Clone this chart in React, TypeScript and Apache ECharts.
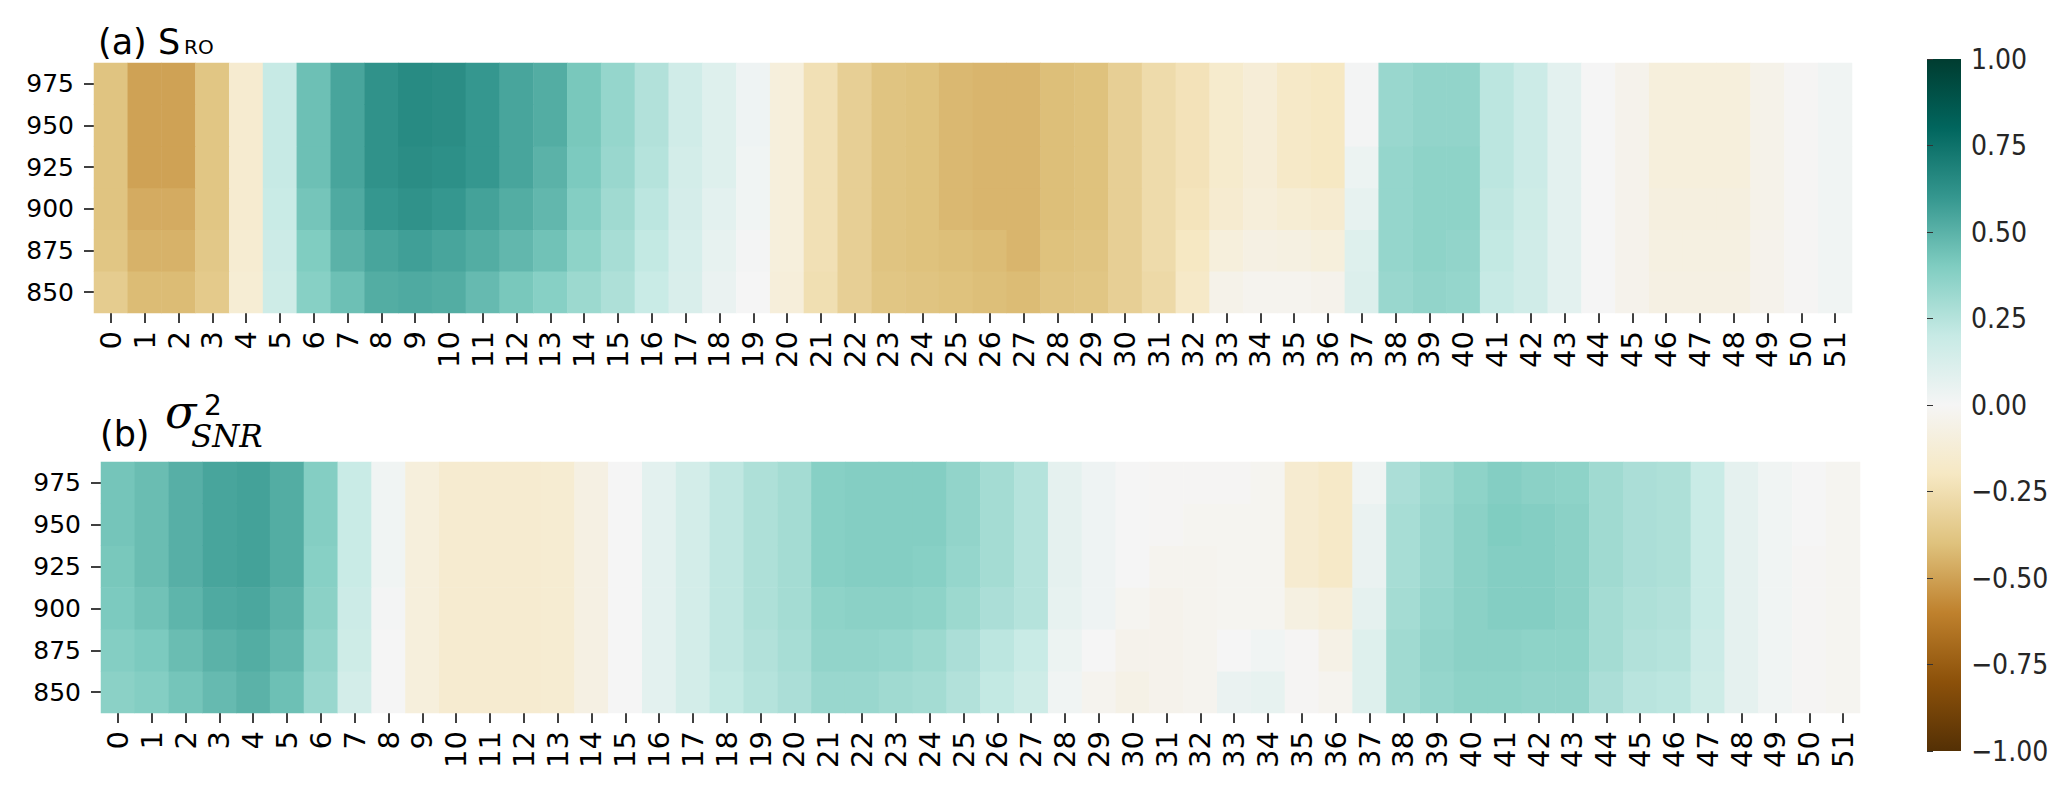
import React, { useEffect, useRef } from "react";
import * as echarts from "echarts";

// x categories (index 0..51)
const columns: string[] = Array.from({ length: 52 }, (_, i) => String(i));
// pressure levels, bottom to top
const levels: string[] = ["850", "875", "900", "925", "950", "975"];
const cbarTicks: number[] = [-1, -0.75, -0.5, -0.25, 0, 0.25, 0.5, 0.75, 1];

// (a) S_RO  — one array per level
const sro975 = [-0.39,-0.5,-0.5,-0.38,-0.15,0.2,0.45,0.55,0.62,0.65,0.64,0.6,0.55,0.52,0.42,0.34,0.26,0.16,0.1,0.03,-0.1,-0.24,-0.33,-0.39,-0.4,-0.43,-0.44,-0.44,-0.41,-0.4,-0.33,-0.27,-0.23,-0.16,-0.12,-0.18,-0.2,0.01,0.33,0.35,0.35,0.23,0.18,0.08,0.0,-0.04,-0.1,-0.1,-0.1,-0.05,-0.01,0.02];
const sro950 = [-0.39,-0.5,-0.5,-0.38,-0.15,0.2,0.45,0.55,0.62,0.65,0.64,0.6,0.55,0.52,0.42,0.34,0.26,0.16,0.1,0.03,-0.1,-0.24,-0.33,-0.39,-0.4,-0.43,-0.44,-0.44,-0.41,-0.4,-0.33,-0.27,-0.23,-0.16,-0.12,-0.18,-0.2,0.01,0.33,0.35,0.35,0.23,0.18,0.08,0.0,-0.04,-0.1,-0.1,-0.1,-0.05,-0.01,0.02];
const sro925 = [-0.39,-0.5,-0.5,-0.38,-0.15,0.2,0.45,0.55,0.62,0.64,0.63,0.6,0.55,0.5,0.41,0.33,0.25,0.15,0.1,0.02,-0.1,-0.24,-0.33,-0.39,-0.4,-0.43,-0.44,-0.44,-0.41,-0.4,-0.33,-0.27,-0.23,-0.16,-0.12,-0.18,-0.2,0.04,0.34,0.36,0.36,0.23,0.18,0.08,0.0,-0.04,-0.1,-0.1,-0.1,-0.05,-0.01,0.02];
const sro900 = [-0.39,-0.47,-0.47,-0.38,-0.15,0.19,0.43,0.53,0.6,0.62,0.6,0.56,0.52,0.48,0.39,0.31,0.23,0.14,0.08,0.02,-0.1,-0.24,-0.33,-0.39,-0.4,-0.43,-0.44,-0.44,-0.41,-0.4,-0.33,-0.27,-0.22,-0.15,-0.11,-0.13,-0.15,0.06,0.34,0.36,0.36,0.22,0.17,0.08,0.0,-0.04,-0.09,-0.09,-0.09,-0.05,-0.01,0.02];
const sro875 = [-0.38,-0.45,-0.45,-0.37,-0.14,0.18,0.4,0.5,0.55,0.57,0.55,0.52,0.48,0.44,0.36,0.29,0.21,0.13,0.06,0.01,-0.1,-0.24,-0.33,-0.39,-0.4,-0.41,-0.42,-0.44,-0.4,-0.39,-0.33,-0.27,-0.2,-0.1,-0.07,-0.08,-0.1,0.1,0.34,0.36,0.35,0.21,0.16,0.08,0.0,-0.04,-0.08,-0.08,-0.08,-0.04,-0.01,0.02];
const sro850 = [-0.35,-0.42,-0.42,-0.36,-0.13,0.17,0.38,0.45,0.52,0.53,0.52,0.47,0.42,0.38,0.32,0.27,0.19,0.12,0.05,0.0,-0.11,-0.25,-0.33,-0.38,-0.39,-0.4,-0.41,-0.42,-0.39,-0.38,-0.33,-0.28,-0.18,-0.05,-0.03,-0.03,-0.04,0.11,0.33,0.35,0.34,0.2,0.16,0.08,0.0,-0.04,-0.07,-0.07,-0.07,-0.04,-0.01,0.02];

// (b) sigma^2_SNR — one array per level
const snr975 = [0.43,0.46,0.51,0.55,0.56,0.52,0.39,0.19,0.02,-0.1,-0.15,-0.15,-0.15,-0.14,-0.07,0.0,0.08,0.15,0.22,0.27,0.3,0.38,0.39,0.39,0.39,0.35,0.3,0.25,0.07,0.03,0.0,-0.01,-0.01,-0.01,-0.02,-0.15,-0.18,0.02,0.28,0.32,0.36,0.39,0.37,0.36,0.31,0.28,0.27,0.19,0.07,0.02,0.0,-0.02];
const snr950 = [0.43,0.46,0.51,0.55,0.56,0.52,0.39,0.19,0.02,-0.1,-0.15,-0.15,-0.15,-0.14,-0.07,0.0,0.08,0.15,0.22,0.27,0.3,0.38,0.39,0.39,0.39,0.35,0.3,0.25,0.07,0.03,0.0,-0.01,-0.02,-0.02,-0.02,-0.15,-0.18,0.05,0.29,0.33,0.37,0.4,0.39,0.37,0.31,0.28,0.27,0.19,0.07,0.02,0.0,-0.02];
const snr925 = [0.42,0.46,0.51,0.55,0.56,0.52,0.38,0.19,0.02,-0.1,-0.15,-0.15,-0.15,-0.14,-0.07,0.0,0.08,0.15,0.22,0.27,0.3,0.38,0.39,0.39,0.38,0.34,0.3,0.25,0.07,0.03,0.0,-0.03,-0.03,-0.02,-0.02,-0.15,-0.18,0.05,0.29,0.33,0.37,0.39,0.39,0.37,0.31,0.28,0.27,0.19,0.07,0.02,-0.01,-0.02];
const snr900 = [0.41,0.44,0.49,0.53,0.54,0.5,0.37,0.18,0.01,-0.1,-0.15,-0.15,-0.15,-0.14,-0.07,0.0,0.08,0.15,0.22,0.27,0.3,0.36,0.37,0.37,0.36,0.32,0.28,0.25,0.06,0.03,-0.02,-0.04,-0.03,-0.02,-0.02,-0.08,-0.11,0.07,0.3,0.34,0.37,0.39,0.39,0.37,0.3,0.27,0.26,0.19,0.07,0.02,-0.01,-0.02];
const snr875 = [0.39,0.41,0.46,0.5,0.52,0.48,0.35,0.17,0.0,-0.1,-0.15,-0.15,-0.15,-0.14,-0.07,0.0,0.08,0.15,0.22,0.26,0.29,0.35,0.35,0.34,0.32,0.28,0.23,0.19,0.04,0.0,-0.04,-0.04,-0.03,0.0,0.02,-0.01,-0.06,0.1,0.31,0.35,0.37,0.37,0.36,0.36,0.3,0.26,0.25,0.18,0.07,0.02,-0.01,-0.02];
const snr850 = [0.37,0.39,0.43,0.47,0.5,0.45,0.33,0.15,0.0,-0.1,-0.15,-0.15,-0.15,-0.14,-0.07,0.0,0.08,0.15,0.21,0.25,0.28,0.33,0.33,0.31,0.3,0.26,0.21,0.17,0.02,-0.03,-0.06,-0.04,-0.03,0.05,0.06,-0.01,-0.03,0.1,0.31,0.34,0.36,0.36,0.35,0.35,0.28,0.24,0.23,0.17,0.07,0.02,-0.01,-0.02];

const sroRows = [sro850, sro875, sro900, sro925, sro950, sro975];
const snrRows = [snr850, snr875, snr900, snr925, snr950, snr975];

const BrBG = ["#543005","#8c510a","#bf812d","#dfc27d","#f6e8c3","#f5f5f5","#c7eae5","#80cdc1","#35978f","#01665e","#003c30"];

function toCells(rows: number[][]) {
  const out: number[][] = [];
  rows.forEach((row, r) => row.forEach((v, c) => out.push([c, r, v])));
  return out;
}

const FONT = "DejaVu Sans";

function catX(gridIndex: number) {
  return {
    type: "category", gridIndex, data: columns,
    axisLine: { show: false },
    axisTick: { show: true, alignWithLabel: true, length: 10, lineStyle: { color: "#000", width: 1.5 } },
    axisLabel: { interval: 0, rotate: 90, fontSize: 29, margin: 18, color: "#000", fontFamily: FONT },
    splitLine: { show: false },
  };
}
function catY(gridIndex: number) {
  return {
    type: "category", gridIndex, data: levels,
    axisLine: { show: false },
    axisTick: { show: true, alignWithLabel: true, length: 10, lineStyle: { color: "#000", width: 1.5 } },
    axisLabel: { fontSize: 25, margin: 20, color: "#000", fontFamily: FONT },
    splitLine: { show: false },
  };
}

// colour bar gradient (top = +1, bottom = -1), built from the colormap list
const cbarStops = BrBG.slice().reverse().map((c, i, a) => ({ offset: i / (a.length - 1), color: c }));

export default function App() {
  const ref = useRef<HTMLDivElement>(null);
  useEffect(() => {
    document.body.style.margin = "0";
    const chart = echarts.init(ref.current!, null, { renderer: "svg" });
    chart.setOption({
      animation: false,
      backgroundColor: "#ffffff",
      grid: [
        { left: 94, top: 63, width: 1758, height: 250 },
        { left: 101, top: 462, width: 1759, height: 251 },
        { left: 1927, top: 59, width: 34, height: 692 },
      ],
      xAxis: [catX(0), catX(1), { type: "value", gridIndex: 2, show: false, min: 0, max: 1 }],
      yAxis: [
        catY(0),
        catY(1),
        {
          type: "value", gridIndex: 2, position: "right", min: cbarTicks[0], max: cbarTicks[cbarTicks.length - 1], interval: 0.25,
          axisLine: { show: false },
          axisTick: { show: true, length: 6, lineStyle: { color: "#333", width: 1 } },
          splitLine: { show: false },
          axisLabel: {
            fontSize: 28, margin: 10, color: "#262626", fontFamily: "DejaVu Sans Condensed, DejaVu Sans",
            formatter: (v: number) => v.toFixed(2).replace("-", "\u2212"),
          },
        },
      ],
      visualMap: {
        type: "continuous", min: -1, max: 1, seriesIndex: [0, 1], show: false,
        inRange: { color: BrBG },
      },
      series: [
        { type: "heatmap", xAxisIndex: 0, yAxisIndex: 0, data: toCells(sroRows), emphasis: { disabled: true }, itemStyle: { borderWidth: 0 } },
        { type: "heatmap", xAxisIndex: 1, yAxisIndex: 1, data: toCells(snrRows), emphasis: { disabled: true }, itemStyle: { borderWidth: 0 } },
      ],
      graphic: [
        {
          type: "rect", shape: { x: 1927, y: 59, width: 34, height: 692 }, z: 0,
          style: { fill: new echarts.graphic.LinearGradient(0, 0, 0, 1, cbarStops) },
        },
        { type: "text", x: 98, y: 59.5, style: { text: "(a) S", fontSize: 35, fontFamily: FONT, fill: "#000", align: "left", verticalAlign: "bottom" } },
        { type: "text", x: 184, y: 57, style: { text: "RO", fontSize: 20, fontFamily: FONT, fill: "#000", align: "left", verticalAlign: "bottom" } },
        { type: "text", x: 100, y: 451, style: { text: "(b)", fontSize: 35, fontFamily: FONT, fill: "#000", align: "left", verticalAlign: "bottom" } },
        { type: "text", x: 165, y: 435, style: { text: "\u03c3", fontSize: 46, fontStyle: "italic", fontFamily: "DejaVu Serif", fill: "#000", align: "left", verticalAlign: "bottom" } },
        { type: "text", x: 204, y: 419, style: { text: "2", fontSize: 28, fontFamily: FONT, fill: "#000", align: "left", verticalAlign: "bottom" } },
        { type: "text", x: 191, y: 451, style: { text: "SNR", fontSize: 31, fontStyle: "italic", fontFamily: "DejaVu Serif", fill: "#000", align: "left", verticalAlign: "bottom" } },
      ],
    });
    return () => chart.dispose();
  }, []);
  return <div ref={ref} style={{ width: 2067, height: 789 }} />;
}
